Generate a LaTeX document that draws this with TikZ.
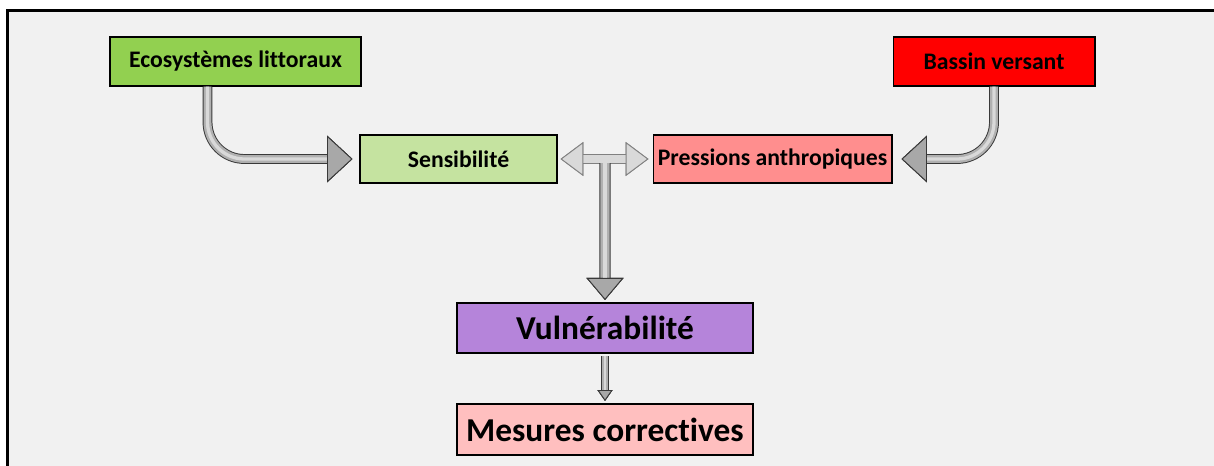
\documentclass[tikz,border=0pt]{standalone}
\usepackage{fontspec}
\setmainfont{Carlito}[Ligatures=NoCommon]
\usetikzlibrary{arrows.meta,calc}

\definecolor{fond}{HTML}{F1F1F1}
\definecolor{vertEco}{HTML}{92D050}
\definecolor{vertSens}{HTML}{C5E3A0}
\definecolor{rougeBV}{HTML}{FF0000}
\definecolor{rosePress}{HTML}{FF8E8E}
\definecolor{violetVuln}{HTML}{B584DA}
\definecolor{roseMes}{HTML}{FFBFBF}

\tikzset{
  boite/.style={draw=black, line width=0.6pt, inner sep=0pt, font=\bfseries\fontsize{13.5}{16}\selectfont},
  grandeboite/.style={boite, line width=1.2pt, font=\bfseries\fontsize{19}{22}\selectfont},
  tube/.style n args={3}{draw=gray!45!black, line width=#1,
    -{Triangle[length=#2,width=#3,color=gray!45!black,fill=gray!68,line width=0.5pt]},
    postaction={draw=gray!62, line width=#1-1.1pt,
      -{Triangle[length=#2,width=#3,color=gray!45!black,fill=gray!68,line width=0.5pt]}},
    postaction={draw=gray!30, line width=#1/3,
      -{Triangle[length=#2,width=#3,color=gray!45!black,fill=gray!68,line width=0.5pt]}}},
  doubletube/.style n args={3}{draw=gray, line width=#1,
    {Triangle[length=#2,width=#3,color=gray,fill=gray!30,line width=0.5pt]}-{Triangle[length=#2,width=#3,color=gray,fill=gray!30,line width=0.5pt]},
    postaction={draw=gray!30, line width=#1-1.1pt,
      {Triangle[length=#2,width=#3,color=gray,fill=gray!30,line width=0.5pt]}-{Triangle[length=#2,width=#3,color=gray,fill=gray!30,line width=0.5pt]}}}
}

\begin{document}
\begin{tikzpicture}[x=0.02cm, y=-0.02cm]
\useasboundingbox (0,0) rectangle (1214,466);
\clip (0,0) rectangle (1214,466);

% cadre
\fill[white] (0,0) rectangle (1214,466);
\fill[fond] (7.7,10.7) rectangle (1230,480);
\draw[line width=1.9pt] (7.7,480) |- (1230,10.7);

% boites
\node[boite, fill=vertEco, minimum width=5.02cm, minimum height=0.98cm] (eco) at (235.5,61.5) {Ecosystèmes littoraux};
\node[boite, fill=rougeBV, minimum width=4.04cm, minimum height=0.98cm] (bv) at (994,61.5) {Bassin versant};
\node[boite, fill=vertSens, minimum width=3.94cm, minimum height=0.96cm] (sens) at (458.5,159) {Sensibilité};
\node[boite, fill=rosePress, minimum width=4.78cm, minimum height=0.96cm] (press) at (772.5,159) {Pressions anthropiques};
\node[grandeboite, fill=violetVuln, minimum width=5.92cm, minimum height=1.0cm] (vuln) at (605,328) {Vulnérabilité};
\node[grandeboite, fill=roseMes, minimum width=5.92cm, minimum height=1.02cm] (mes) at (605,429.5) {Mesures correctives};

\coordinate (milieu) at ($(sens.east)!0.5!(press.west)$);

% fleches
\draw[tube={5.6pt}{14.5pt}{26.6pt}, rounded corners=21pt, shorten >=0.14cm] ([xshift=-0.56cm]eco.south) |- (sens.west);
\draw[tube={5.6pt}{14.5pt}{26.6pt}, rounded corners=21pt, shorten >=0.18cm] (bv.south) |- (press.east);
\draw[doubletube={5.7pt}{13pt}{19.3pt}, shorten <=0.06cm, shorten >=0.08cm] (sens.east) -- (press.west);
\draw[tube={6.4pt}{12.5pt}{21pt}, shorten >=0.04cm] ([yshift=-2.3pt]milieu) -- (vuln.north);
\draw[tube={4pt}{6.2pt}{8.5pt}, shorten <=0.04cm, shorten >=0.04cm] (vuln.south) -- (mes.north);
\end{tikzpicture}
\end{document}
